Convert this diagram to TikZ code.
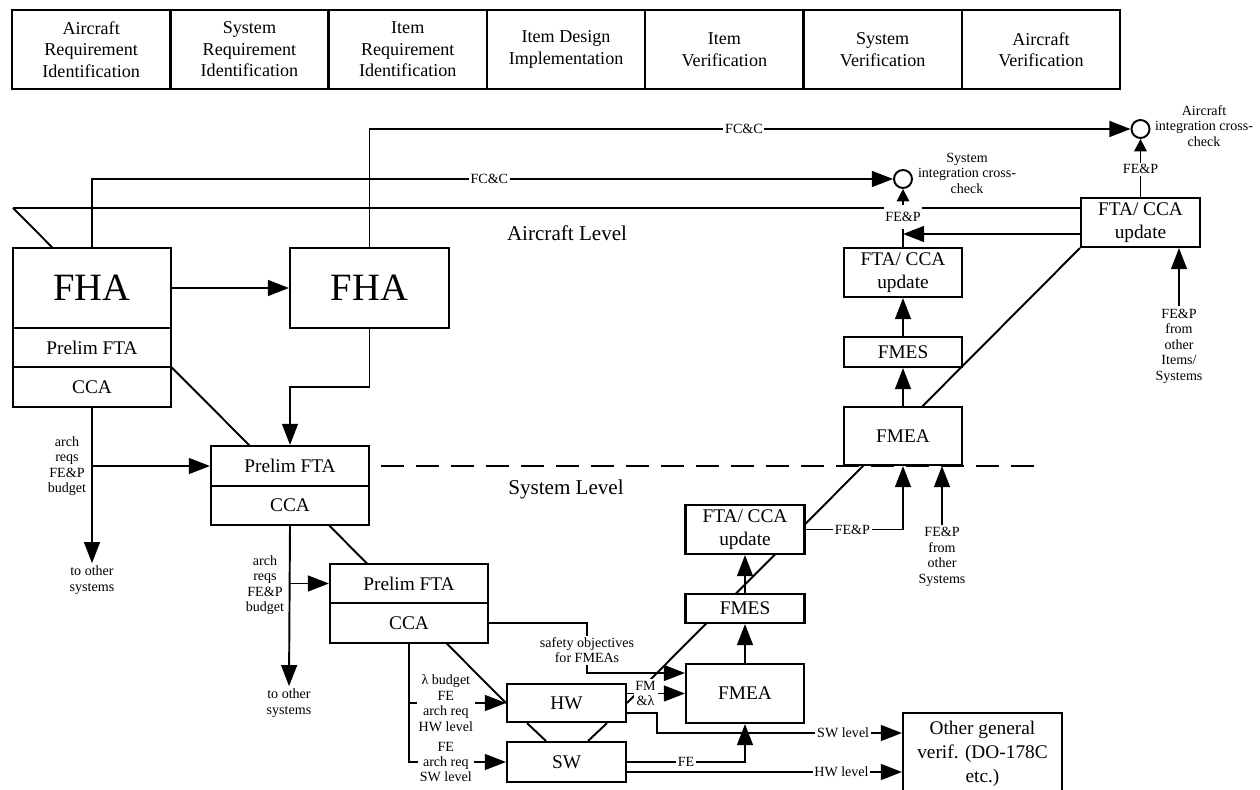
\documentclass[tikz,border=0pt]{standalone}
\usepackage{fontspec}
\setmainfont{Liberation Serif}
\usetikzlibrary{arrows.meta,backgrounds}

\tikzset{
  hdr/.style={draw, line width=1.4pt, minimum width=3.166cm, minimum height=1.58cm,
    inner sep=0pt, align=center, font=\fontsize{10.3}{12.2}\selectfont},
  box/.style={draw, line width=1.2pt, fill=white, inner sep=0pt, align=center,
    font=\fontsize{11}{13}\selectfont},
  bigbox/.style={box, font=\fontsize{22}{26}\selectfont},
  lbl/.style={fill=white, inner sep=1pt, align=center, font=\fontsize{8}{8.8}\selectfont},
  note/.style={inner sep=1pt, align=center, font=\fontsize{8}{8.8}\selectfont},
  lvl/.style={inner sep=0pt, font=\fontsize{12}{14}\selectfont},
  chk/.style={draw, circle, fill=white, line width=1.1pt, minimum size=0.36cm, inner sep=0pt},
  link/.style={line width=1.1pt},
  smalltip/.style={>={Triangle[length=7pt,width=7pt]}},
}

\begin{document}
\begin{tikzpicture}[x=0.02cm, y=-0.02cm, every path/.style={line width=1.1pt}, >={Triangle[length=12pt,width=9pt]}]

\useasboundingbox (0,0) rectangle (1260,790);

% Phase headings
\node[hdr] (h1) at (91.15,49.5) {Aircraft\\Requirement\\Identification};
\node[hdr] (h2) at (249.45,49.5) {System\\Requirement\\Identification};
\node[hdr] (h3) at (407.75,49.5) {Item\\Requirement\\Identification};
\node[hdr] (h4) at (566.05,49.5) {Item Design\\Implementation};
\node[hdr] (h5) at (724.35,49.5) {Item\\Verification};
\node[hdr] (h6) at (882.65,49.5) {System\\Verification};
\node[hdr] (h7) at (1040.95,49.5) {Aircraft\\Verification};

% Aircraft level (left)
\node[bigbox, minimum width=3.16cm, minimum height=1.6cm] (fha1) at (92,288) {FHA};
\node[box, minimum width=3.16cm, minimum height=0.78cm] (pfta1) at (92,347.5) {Prelim FTA};
\node[box, minimum width=3.16cm, minimum height=0.8cm] (cca1) at (92,387) {CCA};

% System level (left)
\node[bigbox, minimum width=3.18cm, minimum height=1.6cm] (fha2) at (369.5,288) {FHA};
\node[box, minimum width=3.16cm, minimum height=0.8cm] (pfta2) at (290,466) {Prelim FTA};
\node[box, minimum width=3.16cm, minimum height=0.78cm] (cca2) at (290,505.5) {CCA};

% Item level
\node[box, minimum width=3.16cm, minimum height=0.78cm] (pfta3) at (409,583.5) {Prelim FTA};
\node[box, minimum width=3.16cm, minimum height=0.8cm] (cca3) at (409,623) {CCA};
\node[box, minimum width=2.38cm, minimum height=0.76cm] (hw) at (566.5,703) {HW};
\node[box, minimum width=2.38cm, minimum height=0.8cm] (sw) at (566.5,762) {SW};

% Item verification
\node[box, minimum width=2.36cm, minimum height=1.18cm] (fmea3) at (745,693.5) {FMEA};
\node[box, minimum width=2.38cm, minimum height=0.58cm] (fmes3) at (745,608.5) {FMES};
\node[box, minimum width=2.38cm, minimum height=0.98cm] (upd3) at (745,529.5) {FTA/ CCA\\update};

% System verification
\node[box, minimum width=2.36cm, minimum height=1.16cm] (fmea2) at (903,436) {FMEA};
\node[box, minimum width=2.36cm, minimum height=0.6cm] (fmes2) at (903,352) {FMES};
\node[box, minimum width=2.36cm, minimum height=0.98cm] (upd2) at (903,272.5) {FTA/ CCA\\update};

% Aircraft verification
\node[box, minimum width=2.38cm, minimum height=0.98cm] (upd1) at (1140.5,222.5) {FTA/ CCA\\update};
\node[box, minimum width=3.18cm, minimum height=1.64cm, font=\fontsize{11}{13.6}\selectfont] (other) at (982.5,754) {Other general\\verif. (DO-178C\\etc.)};

% Cross-check points
\node[chk] (sysck) at (903,179) {};
\node[note] (sysnote) at (967,173) {System\\integration cross-\\check};
\node[chk] (acck) at (1140.5,129) {};
\node[note] (acnote) at (1204,126) {Aircraft\\integration cross-\\check};

% Level names and side notes
\node[lvl] (lvla) at (567,233) {Aircraft Level};
\node[lvl] (lvls) at (566,489) {System Level};
\node[note] (arch1) at (67,466) {arch\\reqs\\FE\&P\\budget};
\node[note] (oth1) at (92,580) {to other\\systems};
\node[note] (arch2) at (265,585) {arch\\reqs\\FE\&P\\budget};
\node[note] (oth2) at (289,703) {to other\\systems};
\node[note] (frsys) at (942,557) {FE\&P\\from\\other\\Systems};
\node[note] (fritem) at (1179,346) {FE\&P\\from\\other\\Items/\\Systems};

% V outline behind the boxes
\begin{scope}[on background layer]
 \coordinate (vtop) at (13,208);
 \draw[link] (vtop) -- (vtop -| upd1.west);
 \draw[link] (vtop) -- (hw.west);
 \draw[link] (hw.east) -- (upd1.south west);
 \draw[link] ([xshift=0.42cm]hw.south west) -- ([xshift=0.8cm]sw.north west);
 \draw[link] ([xshift=-0.4cm]hw.south east) -- ([xshift=-0.78cm]sw.north east);
 \coordinate (dashend) at (1042,466);
 \draw[link, dash pattern=on 0.46cm off 0.24cm] ([xshift=0.22cm]pfta2.east) -- (dashend);
\end{scope}

% Left side of the V
 \draw[link, ->] (fha1.east) -- (fha2.west);
 \draw[link, ->] (fha1.north) |- node[lbl, pos=0.748] {FC\&C} (sysck.west);
 \draw[link, ->] (fha2.north) |- node[lbl, pos=0.746] {FC\&C} (acck.west);
 \coordinate (fhadrop) at (290,387);
 \draw[link, ->] (fha2.south) |- (fhadrop) -- (pfta2.north);
 \draw[link, ->] (cca1.south) -- (oth1.north);
 \draw[link, ->] (cca1.south |- pfta2.west) -- (pfta2.west);
 \draw[link, ->] (cca2.south) -- (oth2.north);
 \draw[link, ->] (cca2.south |- pfta3.west) -- (pfta3.west);

% Item level inputs
 \draw[link, ->] (cca3.south |- hw.west) -- node[lbl, pos=0.38] {λ budget\\FE\\arch req\\HW level} (hw.west);
 \draw[link, ->] (cca3.south) |- node[lbl, pos=0.69] {FE\\arch req\\SW level} (sw.west);
 \coordinate (safety) at (587,673);
 \draw[link, ->] (cca3.east) -| node[lbl, pos=0.77] {safety objectives\\for FMEAs} (safety) -- (safety -| fmea3.west);
 \draw[link, ->] (hw.east |- fmea3.west) -- node[lbl, pos=0.32] {FM\\\&λ} (fmea3.west);

% Outputs to other verification
 \coordinate (swlvl) at (657,733);
 \draw[link, ->] ([yshift=-0.2cm]hw.east) -| (swlvl) -- node[lbl, pos=0.76] {SW level} (swlvl -| other.west);
 \coordinate (hwlvl) at ([yshift=-0.2cm]sw.east);
 \draw[link, ->] (hwlvl) -- node[lbl, pos=0.78] {HW level} (hwlvl -| other.west);
 \draw[link, ->] (sw.east) -| node[lbl, pos=0.25] {FE} (fmea3.south);

% Right side of the V
 \draw[link, ->] (fmea3.north) -- (fmes3.south);
 \draw[link, ->] (fmes3.north) -- (upd3.south);
 \draw[link, ->] (upd3.east) -| node[lbl, pos=0.24] {FE\&P} (fmea2.south);
 \draw[link, ->] (frsys.north) -- (frsys.north |- fmea2.south);
 \draw[link, ->] (fmea2.north) -- (fmes2.south);
 \draw[link, ->] (fmes2.north) -- (upd2.south);
 \draw[link, ->, smalltip] (upd2.north) -- node[lbl, inner ysep=4pt, pos=0.52] {FE\&P} (sysck.south);
 \coordinate (updin) at ([yshift=-0.23cm]upd1.west);
 \draw[link, ->] (updin) -- (updin -| upd2.north);
 \draw[link, ->, smalltip] (upd1.north) -- node[lbl, pos=0.48] {FE\&P} (acck.south);
 \draw[link, ->] (fritem.north) -- (fritem.north |- upd1.south);

\end{tikzpicture}
\end{document}
